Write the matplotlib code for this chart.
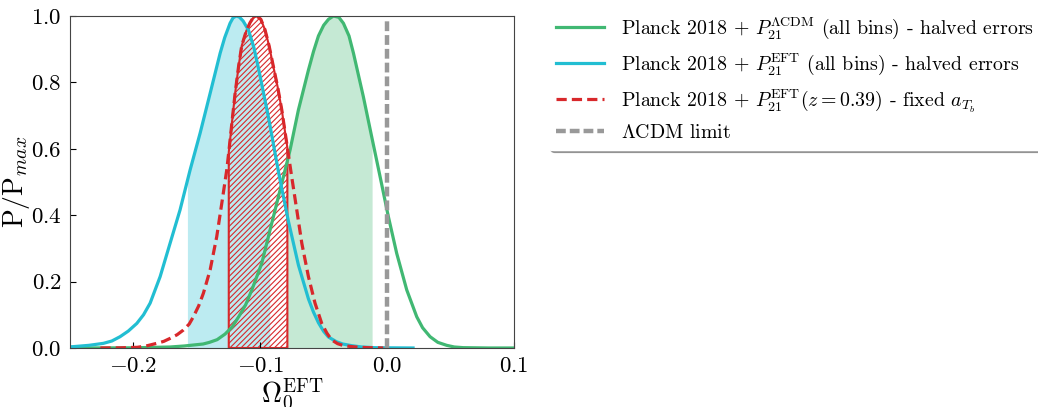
import numpy as np
import matplotlib
matplotlib.use("Agg")
import matplotlib.pyplot as plt

plt.rcParams['font.family'] = 'serif'
plt.rcParams['font.serif'] = ['cmr10']
plt.rcParams['mathtext.fontset'] = 'cm'
plt.rcParams['axes.formatter.use_mathtext'] = True
plt.rcParams['hatch.linewidth'] = 0.8

# marginalised posteriors of Omega_0^EFT, normalised to the peak
green_x = [-0.25, -0.20, -0.171, -0.16, -0.145, -0.14, -0.134, -0.1277, -0.122, -0.117,
           -0.1115, -0.1066, -0.0988, -0.0909, -0.083, -0.0765, -0.0699, -0.062, -0.058, -0.0541,
           -0.05, -0.0462, -0.0423, -0.038, -0.0344, -0.030, -0.0265, -0.0187, -0.0121, -0.0055,
           0.001, 0.0076, 0.0155, 0.0234, 0.028, 0.0339, 0.040, 0.047, 0.053, 0.06, 0.08, 0.1]
green_y = [0.0, 0.0005, 0.003, 0.006, 0.012, 0.017, 0.025, 0.042, 0.064, 0.094,
           0.13, 0.175, 0.255, 0.376, 0.496, 0.596, 0.717, 0.837, 0.893, 0.94,
           0.972, 0.99, 1.0, 0.996, 0.978, 0.94, 0.888, 0.757, 0.636, 0.516,
           0.396, 0.285, 0.175, 0.094, 0.061, 0.034, 0.017, 0.008, 0.003, 0.001, 0.0, 0.0]

cyan_x = [-0.255, -0.2475, -0.235, -0.2236, -0.217, -0.2105, -0.204, -0.1973, -0.192, -0.1868,
          -0.1789, -0.1711, -0.1632, -0.1553, -0.1474, -0.1395, -0.1316, -0.128, -0.1238, -0.1215,
          -0.119, -0.1165, -0.1135, -0.1093, -0.105, -0.1014, -0.0935, -0.0856, -0.0778, -0.0699,
          -0.062, -0.058, -0.0541, -0.050, -0.0462, -0.040, -0.035, -0.028, -0.02, -0.01, 0.0, 0.0205]
cyan_y = [0.003, 0.004, 0.008, 0.014, 0.021, 0.034, 0.051, 0.074, 0.1, 0.135,
          0.215, 0.315, 0.416, 0.536, 0.647, 0.767, 0.888, 0.935, 0.978, 0.994,
          1.0, 0.997, 0.985, 0.958, 0.905, 0.843, 0.695, 0.53, 0.382, 0.25,
          0.148, 0.108, 0.076, 0.05, 0.033, 0.019, 0.012, 0.007, 0.003, 0.001, 0.0005, 0.0]

red_x = [-0.226, -0.21, -0.197, -0.19, -0.1816, -0.176, -0.171, -0.1655, -0.1606, -0.156,
         -0.1527, -0.1485, -0.1448, -0.1395, -0.1343, -0.1303, -0.1264, -0.1245, -0.122, -0.1198,
         -0.117, -0.1146, -0.111, -0.108, -0.1055, -0.1027, -0.0995, -0.0962, -0.093, -0.0896,
         -0.0862, -0.083, -0.0783, -0.0752, -0.0712, -0.0672, -0.062, -0.0568, -0.0515, -0.0475,
         -0.0436, -0.039, -0.035, -0.03, -0.022, -0.015, -0.003]
red_y = [0.0, 0.0005, 0.002, 0.006, 0.014, 0.02, 0.029, 0.04, 0.054, 0.072,
         0.094, 0.127, 0.165, 0.235, 0.335, 0.436, 0.536, 0.6, 0.69, 0.767,
         0.85, 0.91, 0.955, 0.98, 0.995, 1.0, 0.99, 0.958, 0.91, 0.847,
         0.785, 0.717, 0.596, 0.516, 0.416, 0.315, 0.215, 0.135, 0.074, 0.045,
         0.024, 0.013, 0.008, 0.005, 0.002, 0.001, 0.0]

# 68% credible intervals
green_ci = (-0.0786, -0.0118)
cyan_ci = (-0.1574, -0.0925)
red_ci = (-0.1248, -0.0786)

labels = [r'Planck 2018 + $P_{21}^{\Lambda\mathrm{CDM}}$ (all bins) - halved errors',
          r'Planck 2018 + $P_{21}^{\mathrm{EFT}}$ (all bins) - halved errors',
          r'Planck 2018 + $P_{21}^{\mathrm{EFT}}(z=0.39)$ - fixed $a_{T_b}$',
          r'$\Lambda$CDM limit']

c_green = '#41b873'
c_cyan = '#22bed2'
c_red = '#d8282b'
c_gray = '#999999'


def band(x, y, lo, hi):
    x = np.asarray(x)
    y = np.asarray(y)
    m = (x > lo) & (x < hi)
    bx = np.r_[lo, x[m], hi]
    by = np.r_[np.interp(lo, x, y), y[m], np.interp(hi, x, y)]
    return bx, by


fig = plt.figure(figsize=(10.38, 4.07), dpi=100)
ax = fig.add_axes([0.0674, 0.145, 0.4277, 0.8157])

bx, by = band(green_x, green_y, *green_ci)
ax.fill_between(bx, 0, by, color=c_green, alpha=0.3, lw=0)
bx, by = band(cyan_x, cyan_y, *cyan_ci)
ax.fill_between(bx, 0, by, color=c_cyan, alpha=0.3, lw=0)
bx, by = band(red_x, red_y, *red_ci)
ax.fill_between(bx, 0, by, facecolor='none', edgecolor=c_red, hatch='//////', lw=1.5)

ax.plot(green_x, green_y, color=c_green, lw=2.3, label=labels[0])
ax.plot(cyan_x, cyan_y, color=c_cyan, lw=2.3, label=labels[1])
ax.plot(red_x, red_y, color=c_red, lw=2.3, ls=(0, (3.2, 1.6)), label=labels[2])
ax.axvline(0.0, ymin=0, ymax=0.985, color=c_gray, lw=3.2, ls=(0, (2.2, 0.9)), label=labels[3])

ax.set_xlim(-0.25, 0.1)
ax.set_ylim(0, 1.0)
ax.set_xticks([-0.2, -0.1, 0.0, 0.1])
ax.set_yticks([0.0, 0.2, 0.4, 0.6, 0.8, 1.0])
ax.tick_params(direction='in', length=4, labelsize=16.5, pad=6)
for s in ax.spines.values():
    s.set_color('#444444')
ax.set_xlabel(r'$\Omega_0^{\mathrm{EFT}}$', fontsize=20, labelpad=1)
ax.set_ylabel(r'$\mathrm{P/P}_{max}$', fontsize=20, labelpad=-1)

leg = ax.legend(loc='upper left', bbox_to_anchor=(548 / 1038, 1 - 8 / 407),
                bbox_transform=fig.transFigure, borderaxespad=0, fontsize=14.3,
                frameon=True, shadow=True, edgecolor='white', framealpha=1,
                handlelength=2.4, handletextpad=0.9, labelspacing=0.5)

fig.savefig('out.png', dpi=100)
